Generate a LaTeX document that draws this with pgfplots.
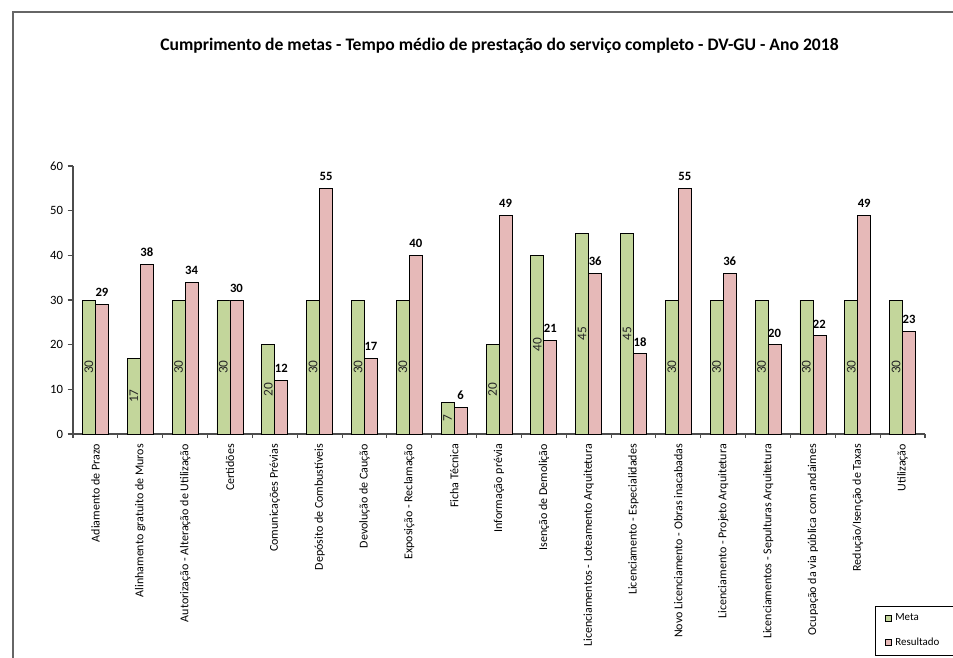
\documentclass[border=0pt]{standalone}
\usepackage{pgfplots}
\usepackage{pgfplotstable}
\pgfplotsset{compat=1.18}
\usepackage{fontspec}
\setmainfont{Carlito}
\definecolor{metac}{HTML}{C3D69B}
\definecolor{resc}{HTML}{E6B9B8}
\pgfplotstableread{
x meta res
0 30 29
1 17 38
2 30 34
3 30 30
4 20 12
5 30 55
6 30 17
7 30 40
8 7 6
9 20 49
10 40 21
11 45 36
12 45 18
13 30 55
14 30 36
15 30 20
16 30 22
17 30 49
18 30 23
}\data
\begin{document}
\begin{tikzpicture}
\useasboundingbox (0,0) rectangle (714.75pt,-492.75pt);
\draw[black!60, line width=0.8pt] (9.75pt,-600pt) -- (9.75pt,-9pt) -- (800pt,-9pt);
\node[font=\bfseries\fontsize{13.2}{15}\selectfont] at (374.6pt,-34.5pt) {Cumprimento de metas - Tempo médio de prestação do serviço completo - DV-GU - Ano 2018};
\begin{axis}[
  at={(54.75pt,-325.5pt)}, anchor=south west,
  scale only axis, width=639pt, height=201pt,
  xmin=-0.5, xmax=18.5, ymin=0, ymax=60,
  ybar=0pt, bar width=9.75pt,
  axis lines*=left, axis line style={-, black!70, line width=0.8pt},
  ytick={0,10,...,60},
  xtick={0,...,18},
  xticklabels={Adiamento de Prazo, Alinhamento gratuito de Muros, Autorização - Alteração de Utilização, Certidões, Comunicações Prévias, Depósito de Combustíveis, Devolução de Caução, Exposição - Reclamação, Ficha Técnica, Informação prévia, Isenção de Demolição, Licenciamentos - Loteamento Arquitetura, Licenciamento - Especialidades, Novo Licenciamento - Obras inacabadas, Licenciamento - Projeto Arquitetura, Licenciamentos - Sepulturas Arquitetura, Ocupação da via pública com andaimes, Redução/Isenção de Taxas, Utilização},
  minor xtick={-0.5,0.5,...,18.5},
  tick align=outside,
  major x tick style={draw=none},
  major tick length=4pt, minor tick length=3pt,
  tick style={black!70, line width=0.8pt},
  y tick label style={font=\fontsize{9.5}{10}\selectfont},
  /pgf/number format/assume math mode=true,
  x tick label style={rotate=90, anchor=east, font=\fontsize{9}{10}\selectfont},
  clip=false,
  legend style={at={(rel axis cs:0.9413,-0.64)}, anchor=north west, draw=black, font=\fontsize{8.2}{9}\selectfont, row sep=7pt, inner xsep=7pt, inner ysep=4pt, column sep=1pt},
  legend cell align=left,
]
\addplot[fill=metac, draw=black, line width=0.6pt, bar shift=-4.875pt,
  legend image code/.code={\draw[fill=metac, draw=black, line width=0.6pt] (0pt,-2pt) rectangle (4.5pt,2.5pt);}]
  table[x=x, y=meta]{\data};
\addlegendentry{Meta}
\addplot[fill=resc, draw=black, line width=0.6pt, bar shift=4.875pt,
  nodes near coords,
  every node near coord/.append style={font=\bfseries\fontsize{9.5}{10}\selectfont, yshift=2pt},
  legend image code/.code={\draw[fill=resc, draw=black, line width=0.6pt] (0pt,-2pt) rectangle (4.5pt,2.5pt);}]
  table[x=x, y=res]{\data};
\addlegendentry{Resultado\hspace*{4pt}}
\addplot[draw=none, fill=none, bar shift=-4.875pt, forget plot,
  y filter/.expression={y/2},
  point meta=explicit,
  nodes near coords,
  every node near coord/.append style={rotate=90, anchor=center, font=\fontsize{10}{11}\selectfont, text=black!85}]
  table[x=x, y=meta, meta=meta]{\data};
\end{axis}
\end{tikzpicture}
\end{document}
